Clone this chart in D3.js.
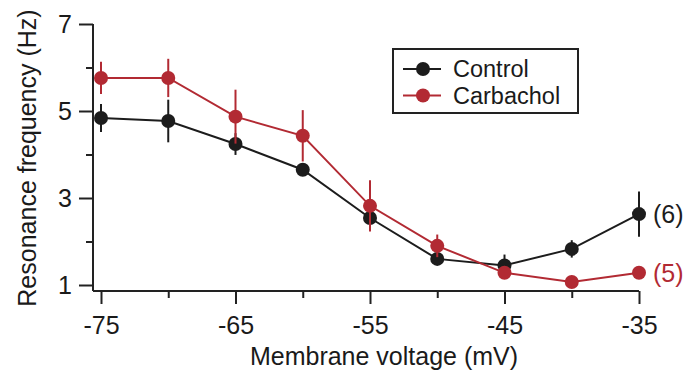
<!DOCTYPE html>
<html>
<head>
<meta charset="utf-8">
<script src="https://cdn.jsdelivr.net/npm/d3@7"></script>
<style>
  html, body { margin: 0; padding: 0; background: #fff; }
  svg { display: block; font-family: "Liberation Sans", Arial, Helvetica, sans-serif; }
</style>
</head>
<body>
<svg id="chart" width="689" height="380"></svg>
<script>
// Membrane voltage steps (mV)
const voltages = [-75, -70, -65, -60, -55, -50, -45, -40, -35];

// Resonance frequency (Hz), mean and SEM
const controlMean = [4.84, 4.77, 4.24, 3.65, 2.54, 1.60, 1.45, 1.83, 2.63];
const controlErr  = [0.32, 0.49, 0.25, 0.08, 0.15, 0.05, 0.25, 0.20, 0.52];
const carbMean    = [5.76, 5.76, 4.87, 4.43, 2.82, 1.90, 1.28, 1.07, 1.28];
const carbErr     = [0.37, 0.44, 0.62, 0.59, 0.59, 0.26, 0.05, 0.05, 0.05];

const seriesNames = ["Control", "Carbachol"];
const seriesN     = ["(6)", "(5)"];
const colors      = ["#1c1c1c", "#b22a33"];

const xMajor = [-75, -65, -55, -45, -35];
const xMinor = [-70, -60, -50, -40];
const yMajor = [1, 3, 5, 7];
const yMinor = [2, 4, 6];

const svg = d3.select("#chart");
const FS = 25;
const axisColor = "#222";

const x = d3.scaleLinear().domain([-75, -35]).range([101, 639]);
const y = d3.scaleLinear().domain([1, 7]).range([285, 24]);

const axisX0 = 93;    // vertical spine position
const axisY0 = 291;   // horizontal spine position

// Spines
svg.append("line")
  .attr("x1", axisX0).attr("x2", axisX0)
  .attr("y1", y(7)).attr("y2", axisY0)
  .attr("stroke", axisColor).attr("stroke-width", 2);
svg.append("line")
  .attr("x1", axisX0).attr("x2", x(-35))
  .attr("y1", axisY0).attr("y2", axisY0)
  .attr("stroke", axisColor).attr("stroke-width", 2);

// Y axis ticks
const yAxisMajor = d3.axisLeft(y).tickValues(yMajor).tickSize(14).tickPadding(7).tickFormat(d3.format("d"));
const yAxisMinor = d3.axisLeft(y).tickValues(yMinor).tickSize(7).tickFormat("");
const gy = svg.append("g").attr("transform", `translate(${axisX0},0)`).call(yAxisMajor);
const gy2 = svg.append("g").attr("transform", `translate(${axisX0},0)`).call(yAxisMinor);

// X axis ticks
const xAxisMajor = d3.axisBottom(x).tickValues(xMajor).tickSize(13).tickPadding(12).tickFormat(d3.format("d"));
const xAxisMinor = d3.axisBottom(x).tickValues(xMinor).tickSize(7).tickFormat("");
const gx = svg.append("g").attr("transform", `translate(0,${axisY0})`).call(xAxisMajor);
const gx2 = svg.append("g").attr("transform", `translate(0,${axisY0})`).call(xAxisMinor);

[gy, gy2, gx, gx2].forEach(g => {
  g.select(".domain").remove();
  g.selectAll(".tick line").attr("stroke", axisColor).attr("stroke-width", 2);
  g.selectAll(".tick text")
    .attr("fill", "#1a1a1a")
    .style("font-size", FS + "px")
    .style("font-family", "'Liberation Sans', Arial, Helvetica, sans-serif");
});
// the minus sign is drawn as a plain hyphen
gx.selectAll(".tick text").text(d => String(d).replace("\u2212", "-"));

// Axis titles
svg.append("text")
  .attr("x", 384).attr("y", 365)
  .attr("text-anchor", "middle")
  .attr("fill", "#1a1a1a")
  .style("font-size", FS + "px")
  .text("Membrane voltage (mV)");

svg.append("text")
  .attr("transform", "translate(36,158) rotate(-90)")
  .attr("text-anchor", "middle")
  .attr("fill", "#1a1a1a")
  .style("font-size", FS + "px")
  .text("Resonance frequency (Hz)");

// Series
const series = [
  { mean: controlMean, err: controlErr },
  { mean: carbMean, err: carbErr }
];

const line = d3.line().x(d => x(d.v)).y(d => y(d.m));

series.forEach((s, i) => {
  const pts = voltages.map((v, k) => ({ v, m: s.mean[k], e: s.err[k] }));
  const g = svg.append("g");
  g.append("path")
    .datum(pts)
    .attr("d", line)
    .attr("fill", "none")
    .attr("stroke", colors[i])
    .attr("stroke-width", 2);
  g.selectAll("line.err")
    .data(pts)
    .join("line")
    .attr("class", "err")
    .attr("x1", d => x(d.v)).attr("x2", d => x(d.v))
    .attr("y1", d => y(d.m + d.e)).attr("y2", d => y(d.m - d.e))
    .attr("stroke", colors[i])
    .attr("stroke-width", 2);
  g.selectAll("circle")
    .data(pts)
    .join("circle")
    .attr("cx", d => x(d.v)).attr("cy", d => y(d.m))
    .attr("r", 7)
    .attr("fill", colors[i]);
  // sample size label at the last point
  const last = pts[pts.length - 1];
  g.append("text")
    .attr("x", x(last.v) + 14)
    .attr("y", y(last.m))
    .attr("dy", "0.35em")
    .attr("fill", colors[i])
    .style("font-size", FS + "px")
    .text(seriesN[i]);
});

// Legend
const legendFS = 23.5;
const legend = svg.append("g");
legend.append("rect")
  .attr("x", 393).attr("y", 49)
  .attr("width", 185).attr("height", 64)
  .attr("fill", "#fff")
  .attr("stroke", axisColor)
  .attr("stroke-width", 2);
seriesNames.forEach((name, i) => {
  const ly = 69 + i * 26.5;
  legend.append("line")
    .attr("x1", 403).attr("x2", 441)
    .attr("y1", ly).attr("y2", ly)
    .attr("stroke", colors[i]).attr("stroke-width", 2);
  legend.append("circle")
    .attr("cx", 423).attr("cy", ly).attr("r", 7)
    .attr("fill", colors[i]);
  legend.append("text")
    .attr("x", 453).attr("y", ly)
    .attr("dy", "0.35em")
    .attr("fill", "#1a1a1a")
    .style("font-size", legendFS + "px")
    .text(name);
});
</script>
</body>
</html>
